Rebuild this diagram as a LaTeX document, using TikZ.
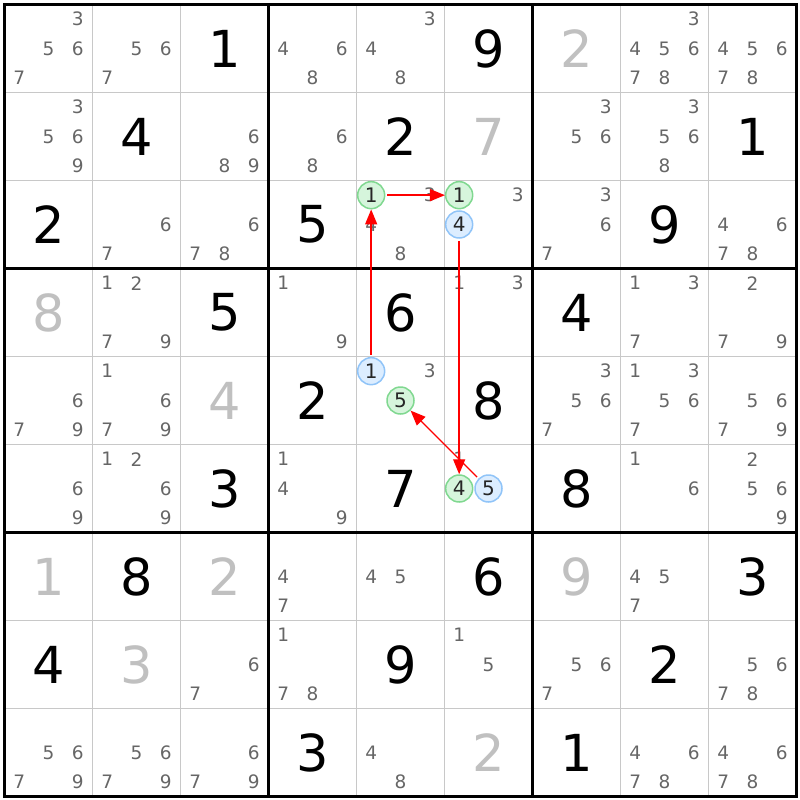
\documentclass[tikz,border=0pt]{standalone}
\usepackage{fontspec}
\setmainfont{DejaVu Sans}
\usetikzlibrary{arrows.meta}
\definecolor{candgray}{HTML}{666666}
\definecolor{solvedgray}{HTML}{C0C0C0}
\definecolor{gridgray}{HTML}{C8C8C8}
\definecolor{onfill}{HTML}{D6F5DC}
\definecolor{ondraw}{HTML}{80D890}
\definecolor{offfill}{HTML}{DCEDFF}
\definecolor{offdraw}{HTML}{90C4F8}
\definecolor{linkred}{HTML}{FF0000}
\tikzset{
  given/.style={inner sep=0pt, font=\fontsize{51}{51}\selectfont},
  solved/.style={given, text=solvedgray},
  cand/.style={inner sep=0pt, text=candgray, font=\fontsize{18.5}{18.5}\selectfont},
  oncand/.style={circle, inner sep=0pt, minimum size=27pt, line width=1.5pt,
    draw=ondraw, fill=onfill, text=black!85, font=\fontsize{20}{20}\selectfont},
  offcand/.style={oncand, draw=offdraw, fill=offfill},
  link/.style={color=linkred, line width=1.4pt, -{Triangle[length=15pt, width=12pt]}, shorten <=2pt},
  cellline/.style={gridgray, line width=1.5pt},
  boxline/.style={black, line width=3pt}
}

\begin{document}
\begin{tikzpicture}[x=88pt, y=-88pt]
\useasboundingbox (-4.5pt,4.5pt) rectangle (795.5pt,-795.5pt);
% grid
\foreach \i in {1,2,4,5,7,8} {
  \draw[cellline] (\i,0) -- (\i,9);
  \draw[cellline] (0,\i) -- (9,\i);
}
\foreach \i in {3,6} {
  \draw[boxline] (\i,0) -- (\i,9);
  \draw[boxline] (0,\i) -- (9,\i);
}
\draw[boxline, line join=miter] (0,0) rectangle (9,9);
% givens and solved cells
\foreach \c/\r/\d in {2/0/1, 5/0/9, 1/1/4, 4/1/2, 8/1/1, 0/2/2, 3/2/5, 7/2/9,
    2/3/5, 4/3/6, 6/3/4, 3/4/2, 5/4/8, 2/5/3, 4/5/7, 6/5/8,
    1/6/8, 5/6/6, 8/6/3, 0/7/4, 4/7/9, 7/7/2, 3/8/3, 6/8/1}
  \node[given] (g\c\r) at (\c+.5,\r+.5) {\d};
\foreach \c/\r/\d in {6/0/2, 5/1/7, 0/3/8, 2/4/4, 0/6/1, 2/6/2, 6/6/9, 1/7/3, 5/8/2}
  \node[solved] (s\c\r) at (\c+.5,\r+.5) {\d};
% candidates
\foreach \c/\r/\l in {0/0/{3,5,6,7}, 1/0/{5,6,7}, 3/0/{4,6,8}, 4/0/{3,4,8}, 7/0/{3,4,5,6,7,8}, 8/0/{4,5,6,7,8},
    0/1/{3,5,6,9}, 2/1/{6,8,9}, 3/1/{6,8}, 6/1/{3,5,6}, 7/1/{3,5,6,8},
    1/2/{6,7}, 2/2/{6,7,8}, 4/2/{3,4,8}, 5/2/{3}, 6/2/{3,6,7}, 8/2/{4,6,7,8},
    1/3/{1,2,7,9}, 3/3/{1,9}, 5/3/{1,3}, 7/3/{1,3,7}, 8/3/{2,7,9},
    0/4/{6,7,9}, 1/4/{1,6,7,9}, 4/4/{3}, 6/4/{3,5,6,7}, 7/4/{1,3,5,6,7}, 8/4/{5,6,7,9},
    0/5/{6,9}, 1/5/{1,2,6,9}, 3/5/{1,4,9}, 5/5/{1}, 7/5/{1,6}, 8/5/{2,5,6,9},
    3/6/{4,7}, 4/6/{4,5}, 7/6/{4,5,7},
    2/7/{6,7}, 3/7/{1,7,8}, 5/7/{1,5}, 6/7/{5,6,7}, 8/7/{5,6,7,8},
    0/8/{5,6,7,9}, 1/8/{5,6,7,9}, 2/8/{6,7,9}, 4/8/{4,8}, 7/8/{4,6,7,8}, 8/8/{4,6,7,8}}
  \foreach \k in \l
    \node[cand] (k\c\r\k) at ({\c+(2*mod(\k-1,3)+1)/6},{\r+(2*div(\k-1,3)+1)/6}) {\k};
% chain
\node[oncand] (r3c5n1) at ({4+1/6},{2+1/6}) {1};
\node[oncand] (r3c6n1) at ({5+1/6},{2+1/6}) {1};
\node[offcand] (r3c6n4) at ({5+1/6},2.5) {4};
\node[offcand] (r5c5n1) at ({4+1/6},{4+1/6}) {1};
\node[oncand] (r5c5n5) at (4.5,4.5) {5};
\node[oncand] (r6c6n4) at ({5+1/6},5.5) {4};
\node[offcand] (r6c6n5) at (5.5,5.5) {5};
\draw[link] (r5c5n1) -- (r3c5n1);
\draw[link] (r3c5n1) -- (r3c6n1);
\draw[link] (r3c6n4) -- (r6c6n4);
\draw[link] (r6c6n5) -- (r5c5n5);
\end{tikzpicture}
\end{document}
